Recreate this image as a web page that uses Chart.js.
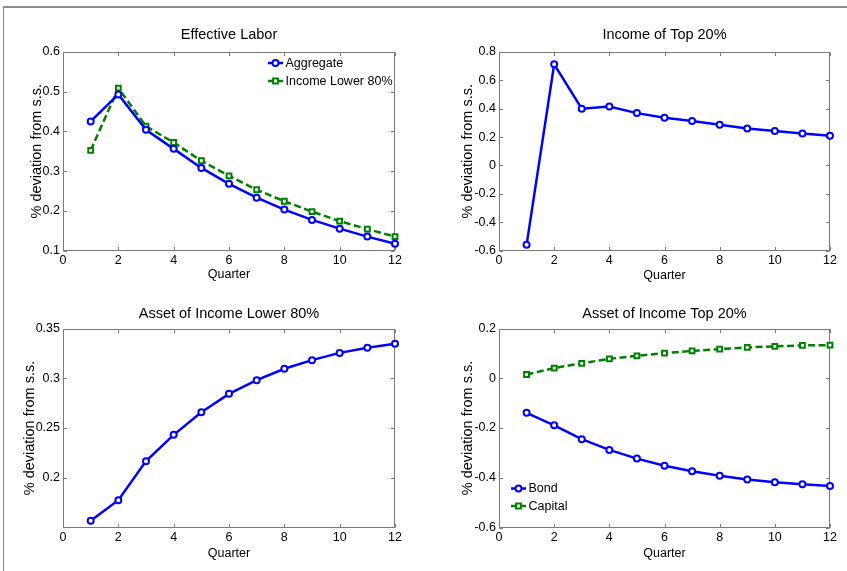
<!DOCTYPE html>
<html><head><meta charset="utf-8">
<script src="https://cdn.jsdelivr.net/npm/chart.js@4/dist/chart.umd.min.js"></script>
<style>
html,body{margin:0;padding:0;background:#fff;}
#wrap{position:relative;width:847px;height:571px;overflow:hidden;background:#fff;}
#frame{position:absolute;left:3px;top:6px;right:0;bottom:0;border-top:2px solid #8c8c8c;border-left:1px solid #8c8c8c;}
canvas{position:absolute;}
</style></head><body>
<div id="wrap"><div id="frame"></div>
<canvas id="c1" width="423" height="285" style="left:0;top:0"></canvas>
<canvas id="c2" width="424" height="285" style="left:423px;top:0"></canvas>
<canvas id="c3" width="423" height="286" style="left:0;top:285px"></canvas>
<canvas id="c4" width="424" height="286" style="left:423px;top:285px"></canvas>
</div>
<script>
// ---- data ----
const quarters = [1,2,3,4,5,6,7,8,9,10,11,12];
const xTicks = [0,2,4,6,8,10,12];

const effLaborAggregate = [0.425,0.493,0.404,0.356,0.308,0.268,0.233,0.203,0.177,0.155,0.135,0.117];
const effLaborLower80   = [0.352,0.509,0.413,0.372,0.326,0.288,0.253,0.224,0.198,0.174,0.154,0.135];
const effLaborYTicks = [0.1,0.2,0.3,0.4,0.5,0.6];

const incomeTop20 = [-0.56,0.713,0.400,0.416,0.369,0.336,0.313,0.287,0.261,0.242,0.226,0.209];
const incomeTop20YTicks = [-0.6,-0.4,-0.2,0,0.2,0.4,0.6,0.8];

const assetLower80 = [0.1567,0.1775,0.2167,0.2431,0.2659,0.2843,0.2981,0.3095,0.3182,0.3255,0.3306,0.3346];
const assetLower80YTicks = [0.2,0.25,0.3,0.35];

const assetTop20Bond    = [-0.139,-0.189,-0.245,-0.288,-0.323,-0.352,-0.374,-0.392,-0.407,-0.418,-0.426,-0.433];
const assetTop20Capital = [0.015,0.041,0.060,0.078,0.090,0.101,0.110,0.117,0.124,0.128,0.132,0.133];
const assetTop20YTicks = [-0.6,-0.4,-0.2,0,0.2];

// ---- styles ----
const BLUE = '#0000ff', GREEN = '#008000', AXIS = '#7a7a7a';
const FONT = '"Liberation Sans", Arial, Helvetica, sans-serif';

function pts(ys){ return quarters.map((q,i)=>({x:q, y:ys[i]})); }
function blueSet(label, ys){
  return {label, data:pts(ys), borderColor:BLUE, borderWidth:2.5, pointStyle:'circle', pointRadius:3,
    pointBorderWidth:2, pointBackgroundColor:'#fff', pointBorderColor:BLUE, clip:false, tension:0};
}
function greenSet(label, ys){
  return {label, data:pts(ys), borderColor:GREEN, borderWidth:2.5, borderDash:[7,3.5], pointStyle:'rect', pointRadius:3.4,
    pointBorderWidth:2, pointBackgroundColor:'#fff', pointBorderColor:GREEN, clip:false, tension:0};
}

const fmt = v => String(+(+v).toFixed(3));

const matlabAxes = {
  id:'matlabAxes',
  beforeDatasetsDraw(chart){
    const {ctx, chartArea:a, scales:{x,y}} = chart;
    ctx.save();
    ctx.strokeStyle = AXIS; ctx.lineWidth = 1;
    const L = Math.round(a.left)+0.5, R = Math.round(a.right)-0.5, T = Math.round(a.top)+0.5, B = Math.round(a.bottom)-0.5;
    ctx.strokeRect(L, T, R-L, B-T);
    ctx.beginPath();
    const tl = 3.5;
    x.ticks.forEach(t=>{ const p = Math.round(x.getPixelForValue(t.value))+0.5;
      ctx.moveTo(p,B); ctx.lineTo(p,B-tl); ctx.moveTo(p,T); ctx.lineTo(p,T+tl); });
    y.ticks.forEach(t=>{ const p = Math.round(y.getPixelForValue(t.value))+0.5;
      ctx.moveTo(L,p); ctx.lineTo(L+tl,p); ctx.moveTo(R,p); ctx.lineTo(R-tl,p); });
    ctx.stroke();
    ctx.restore();
  },
  afterDatasetsDraw(chart, args, opts){
    if(!opts || !opts.show) return;
    const {ctx, chartArea:a} = chart;
    ctx.save();
    chart.data.datasets.forEach((ds,i)=>{
      const x0 = a.left + opts.x, yy = a.top + opts.y + i*opts.gap;
      ctx.strokeStyle = ds.borderColor; ctx.lineWidth = ds.borderWidth;
      ctx.setLineDash(ds.borderDash || []);
      ctx.beginPath(); ctx.moveTo(x0, yy); ctx.lineTo(x0+15, yy); ctx.stroke();
      ctx.setLineDash([]);
      ctx.fillStyle = ds.pointBackgroundColor; ctx.strokeStyle = ds.pointBorderColor; ctx.lineWidth = ds.pointBorderWidth;
      Chart.helpers.drawPoint(ctx, {pointStyle:ds.pointStyle, radius:ds.pointRadius, rotation:0, borderWidth:ds.pointBorderWidth}, x0+7.5, yy);
      ctx.fillStyle = '#000'; ctx.font = '12.5px '+FONT; ctx.textBaseline = 'middle'; ctx.textAlign = 'left';
      ctx.fillText(ds.label, x0+17.5, yy+0.5);
    });
    ctx.restore();
  }
};

function makeChart(id, o){
  return new Chart(document.getElementById(id), {
    type:'line',
    data:{datasets:o.datasets},
    plugins:[matlabAxes],
    options:{
      responsive:false, animation:false, devicePixelRatio:1,
      layout:{padding:{left:0, top:0, right:o.rightGap, bottom:0}},
      plugins:{
        legend:{display:false}, tooltip:{enabled:false},
        title:{display:true, text:o.title, fullSize:false, color:'#000',
          font:{family:FONT, size:14.5, weight:'normal', lineHeight:1.2},
          padding:{top:o.titlePad[0], bottom:o.titlePad[1]}},
        matlabAxes:o.legend || {show:false}
      },
      scales:{
        x:{type:'linear', min:0, max:12,
          afterBuildTicks:s=>{ s.ticks = xTicks.map(v=>({value:v})); },
          afterFit:s=>{ s.height = o.bottomGap; },
          grid:{display:false, drawTicks:false}, border:{display:false},
          ticks:{color:'#000', padding:3, maxRotation:0, autoSkip:false, font:{family:FONT, size:12.5}, callback:fmt},
          title:{display:true, text:'Quarter', color:'#000', font:{family:FONT, size:12.5, lineHeight:1.2}, padding:{top:0, bottom:o.xTitlePad}}
        },
        y:{type:'linear', min:o.ymin, max:o.ymax,
          afterBuildTicks:s=>{ s.ticks = o.yTicks.map(v=>({value:v})); },
          afterFit:s=>{ s.width = o.leftGap; },
          grid:{display:false, drawTicks:false}, border:{display:false},
          ticks:{color:'#000', padding:3, autoSkip:false, font:{family:FONT, size:12.5}, callback:fmt},
          title:{display:true, text:'% deviation from s.s.', color:'#000', font:{family:FONT, size:14.5, lineHeight:1.2}, padding:{top:o.yTitlePad, bottom:0}}
        }
      }
    }
  });
}

makeChart('c1', {
  title:'Effective Labor',
  datasets:[blueSet('Aggregate', effLaborAggregate), greenSet('Income Lower 80%', effLaborLower80)],
  ymin:0.1, ymax:0.6, yTicks:effLaborYTicks,
  leftGap:63, rightGap:28, bottomGap:34.5, titlePad:[26.3,8.3], xTitlePad:2.8, yTitlePad:28,
  legend:{show:true, x:205, y:11, gap:18}
});
makeChart('c2', {
  title:'Income of Top 20%',
  datasets:[blueSet('Income of Top 20%', incomeTop20)],
  ymin:-0.6, ymax:0.8, yTicks:incomeTop20YTicks,
  leftGap:76, rightGap:17, bottomGap:34.5, titlePad:[26.3,8.3], xTitlePad:1.8, yTitlePad:35.8
});
makeChart('c3', {
  title:'Asset of Income Lower 80%',
  datasets:[blueSet('Asset of Income Lower 80%', assetLower80)],
  ymin:0.15, ymax:0.35, yTicks:assetLower80YTicks,
  leftGap:63, rightGap:28, bottomGap:43.5, titlePad:[19.8,6.3], xTitlePad:10.1, yTitlePad:20.8
});
makeChart('c4', {
  title:'Asset of Income Top 20%',
  datasets:[blueSet('Bond', assetTop20Bond), greenSet('Capital', assetTop20Capital)],
  ymin:-0.6, ymax:0.2, yTicks:assetTop20YTicks,
  leftGap:76, rightGap:17, bottomGap:43.5, titlePad:[19.8,6.3], xTitlePad:10.1, yTitlePad:35.8,
  legend:{show:true, x:12, y:160, gap:17.5}
});
</script>
</body></html>
